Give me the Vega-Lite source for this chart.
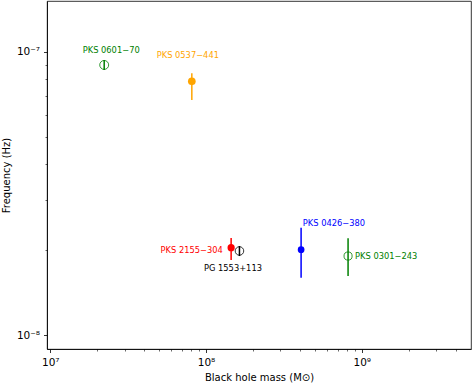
{
  "$schema": "https://vega.github.io/schema/vega-lite/v6.json",
  "autosize": {"type": "none"},
  "padding": {"left": 47, "top": 1, "right": 2, "bottom": 36},
  "width": 424,
  "height": 348,
  "background": "white",
  "config": {
    "view": {"stroke": "black", "strokeWidth": 0.8},
    "font": "DejaVu Sans",
    "axis": {
      "grid": false,
      "domainColor": "black",
      "domainWidth": 0.8,
      "tickColor": "black",
      "labelColor": "black",
      "titleColor": "black",
      "labelFont": "DejaVu Sans",
      "titleFont": "DejaVu Sans",
      "labelFontSize": 10,
      "titleFontSize": 10,
      "titleFontWeight": "normal"
    }
  },
  "data": {
    "values": [
      {"name": "PKS 0601−70", "mass": 2.22e7, "freq": 8.98e-8, "lo": 8.62e-8, "hi": 9.35e-8},
      {"name": "PKS 0537−441", "mass": 8.11e7, "freq": 7.86e-8, "lo": 6.75e-8, "hi": 8.39e-8},
      {"name": "PKS 2155−304", "mass": 1.45e8, "freq": 2.033e-8, "lo": 1.84e-8, "hi": 2.2e-8},
      {"name": "PG 1553+113", "mass": 1.64e8, "freq": 1.98e-8, "lo": 1.9e-8, "hi": 2.06e-8},
      {"name": "PKS 0426−380", "mass": 4.08e8, "freq": 2.0e-8, "lo": 1.593e-8, "hi": 2.39e-8},
      {"name": "PKS 0301−243", "mass": 8.17e8, "freq": 1.9e-8, "lo": 1.615e-8, "hi": 2.195e-8}
    ]
  },
  "encoding": {
    "x": {
      "field": "mass", "type": "quantitative",
      "scale": {"type": "log", "domain": [9.53e6, 5.03e9], "nice": false},
      "axis": {
        "title": "Black hole mass (M⊙)",
        "values": [1e7, 2e7, 3e7, 4e7, 5e7, 6e7, 7e7, 8e7, 9e7, 1e8, 2e8, 3e8, 4e8, 5e8, 6e8, 7e8, 8e8, 9e8, 1e9, 2e9, 3e9, 4e9],
        "labelExpr": "datum.value == 1e7 ? '10⁷' : datum.value == 1e8 ? '10⁸' : datum.value == 1e9 ? '10⁹' : ''",
        "tickSize": {"condition": {"test": "datum.value == 1e7 || datum.value == 1e8 || datum.value == 1e9", "value": 3.5}, "value": 2},
        "tickWidth": {"condition": {"test": "datum.value == 1e7 || datum.value == 1e8 || datum.value == 1e9", "value": 0.8}, "value": 0.6},
        "labelFontSize": 10.5,
        "labelPadding": 5,
        "titlePadding": 4,
        "labelFlush": false,
        "labelOverlap": false
      }
    },
    "y": {
      "field": "freq", "type": "quantitative",
      "scale": {"type": "log", "domain": [8.925e-9, 1.51e-7], "nice": false},
      "axis": {
        "title": "Frequency (Hz)",
        "values": [1e-8, 2e-8, 3e-8, 4e-8, 5e-8, 6e-8, 7e-8, 8e-8, 9e-8, 1e-7],
        "labelExpr": "datum.value == 1e-8 ? '10⁻⁸' : datum.value == 1e-7 ? '10⁻⁷' : ''",
        "tickSize": {"condition": {"test": "datum.value == 1e-8 || datum.value == 1e-7", "value": 3.5}, "value": 2},
        "tickWidth": {"condition": {"test": "datum.value == 1e-8 || datum.value == 1e-7", "value": 0.8}, "value": 0.6},
        "labelFontSize": 10.5,
        "labelPadding": 4,
        "titlePadding": 5,
        "labelFlush": false,
        "labelOverlap": false
      }
    },
    "color": {
      "field": "name", "type": "nominal", "legend": null,
      "scale": {
        "domain": ["PKS 0601−70", "PKS 0537−441", "PKS 2155−304", "PG 1553+113", "PKS 0426−380", "PKS 0301−243"],
        "range": ["#008000", "#FFA500", "#FF0000", "#000000", "#0000FF", "#008000"]
      }
    }
  },
  "layer": [
    {
      "mark": {"type": "rule", "strokeWidth": 1.5},
      "encoding": {"y": {"field": "lo", "type": "quantitative"}, "y2": {"field": "hi"}}
    },
    {
      "transform": [{"filter": {"field": "name", "oneOf": ["PKS 0601−70", "PG 1553+113", "PKS 0301−243"]}}],
      "mark": {"type": "point", "shape": "circle", "filled": false, "strokeWidth": 0.8, "opacity": 1},
      "encoding": {
        "size": {
          "field": "name", "type": "nominal", "legend": null,
          "scale": {"domain": ["PKS 0601−70", "PG 1553+113", "PKS 0301−243"], "range": [80, 45, 169]}
        }
      }
    },
    {
      "transform": [{"filter": {"field": "name", "oneOf": ["PKS 0537−441", "PKS 2155−304", "PKS 0426−380"]}}],
      "mark": {"type": "point", "shape": "circle", "filled": true, "opacity": 1},
      "encoding": {
        "size": {
          "field": "name", "type": "nominal", "legend": null,
          "scale": {"domain": ["PKS 0537−441", "PKS 2155−304", "PKS 0426−380"], "range": [60, 140, 81]}
        }
      }
    },
    {
      "transform": [{"filter": {"field": "name", "equal": "PKS 0601−70"}}],
      "mark": {"type": "text", "fontSize": 8.3, "align": "center", "baseline": "middle", "dx": 7, "dy": -14.3},
      "encoding": {"text": {"field": "name"}}
    },
    {
      "transform": [{"filter": {"field": "name", "equal": "PKS 0537−441"}}],
      "mark": {"type": "text", "fontSize": 8.3, "align": "center", "baseline": "middle", "dx": -4, "dy": -25.6},
      "encoding": {"text": {"field": "name"}}
    },
    {
      "transform": [{"filter": {"field": "name", "equal": "PKS 2155−304"}}],
      "mark": {"type": "text", "fontSize": 8.3, "align": "right", "baseline": "middle", "dx": -8.3, "dy": 3},
      "encoding": {"text": {"field": "name"}}
    },
    {
      "transform": [{"filter": {"field": "name", "equal": "PG 1553+113"}}],
      "mark": {"type": "text", "fontSize": 8.3, "align": "center", "baseline": "middle", "dx": -6.5, "dy": 18.3},
      "encoding": {"text": {"field": "name"}}
    },
    {
      "transform": [{"filter": {"field": "name", "equal": "PKS 0426−380"}}],
      "mark": {"type": "text", "fontSize": 8.3, "align": "left", "baseline": "middle", "dx": 1.7, "dy": -25.7},
      "encoding": {"text": {"field": "name"}}
    },
    {
      "transform": [{"filter": {"field": "name", "equal": "PKS 0301−243"}}],
      "mark": {"type": "text", "fontSize": 8.3, "align": "left", "baseline": "middle", "dx": 7, "dy": 1.3},
      "encoding": {"text": {"field": "name"}}
    }
  ]
}
